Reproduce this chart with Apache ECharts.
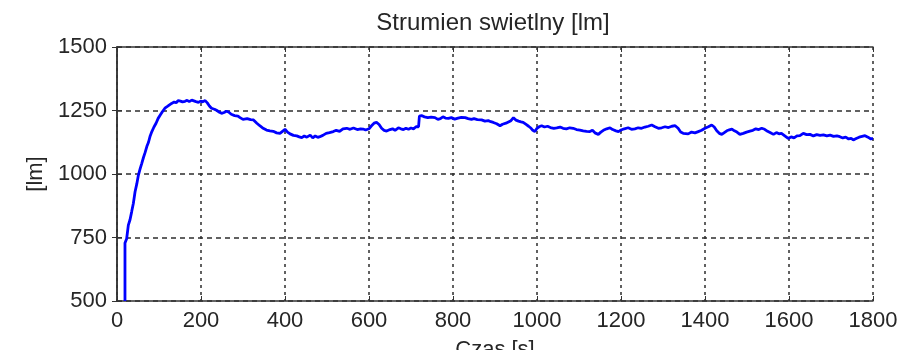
<!DOCTYPE html>
<html><head><meta charset="utf-8">
<script src="https://cdn.jsdelivr.net/npm/echarts@6/dist/echarts.min.js"></script>
<style>html,body{margin:0;padding:0;background:#fff}#c{width:912px;height:350px}</style>
</head><body><div id="c"></div>
<script>
const titleText = 'Strumien swietlny [lm]';
const xName = 'Czas [s]';
const yName = '[lm]';
const xTicks = [0,200,400,600,800,1000,1200,1400,1600,1800];
const yTicks = [500,750,1000,1250,1500];
const timeS = [19,19,23,27,31,35,39,43,47,51,55,59,63,67,71,75,79,83,88,93,98,103,108,114,120,125,130,136,141,146,151,156,162,167,172,178,183,188,194,199,204,210,215,220,225,232,238,244,249,255,260,265,272,280,288,293,300,310,318,325,333,340,348,356,364,372,380,388,394,400,406,412,420,428,434,440,446,452,460,466,472,478,483,490,498,506,515,522,530,538,547,555,563,572,580,586,592,600,606,612,618,624,630,636,642,650,656,662,670,676,682,688,694,700,706,712,718,720,725,732,740,748,757,764,770,776,782,789,796,804,812,820,829,836,844,850,858,868,876,884,890,896,904,912,918,926,932,938,944,950,956,962,967,974,980,986,990,995,1000,1005,1011,1018,1025,1032,1040,1047,1055,1062,1070,1078,1086,1094,1102,1110,1118,1126,1132,1138,1146,1152,1158,1166,1174,1180,1188,1194,1200,1208,1217,1225,1233,1241,1249,1257,1265,1273,1281,1289,1297,1305,1313,1321,1329,1336,1342,1348,1352,1360,1368,1376,1384,1392,1400,1408,1416,1422,1428,1434,1440,1446,1452,1458,1464,1470,1476,1483,1491,1499,1507,1514,1521,1528,1535,1542,1549,1556,1563,1570,1576,1582,1590,1598,1605,1612,1619,1626,1634,1642,1650,1658,1666,1674,1682,1690,1698,1706,1714,1721,1728,1735,1742,1748,1753,1760,1767,1774,1781,1788,1795,1800];
const fluxLm = [500,728,745,799,820,852,885,930,960,996,1020,1042,1065,1085,1108,1125,1150,1167,1185,1200,1219,1232,1245,1259,1266,1272,1278,1283,1281,1289,1287,1284,1286,1290,1285,1291,1288,1285,1282,1287,1284,1289,1280,1268,1259,1255,1250,1243,1239,1242,1247,1245,1235,1230,1228,1222,1215,1218,1214,1213,1200,1190,1180,1173,1170,1168,1162,1160,1168,1176,1165,1158,1152,1150,1146,1143,1150,1145,1153,1142,1150,1144,1147,1152,1160,1163,1167,1172,1168,1178,1180,1176,1181,1175,1178,1177,1173,1178,1190,1200,1203,1195,1180,1172,1169,1175,1178,1172,1182,1178,1175,1180,1176,1181,1178,1186,1186,1228,1230,1225,1222,1224,1222,1215,1218,1225,1220,1219,1222,1216,1220,1223,1222,1218,1215,1218,1214,1213,1208,1210,1206,1203,1198,1190,1196,1200,1205,1210,1222,1212,1208,1205,1203,1195,1188,1180,1172,1167,1180,1186,1190,1185,1188,1183,1180,1182,1185,1180,1178,1182,1180,1175,1173,1170,1168,1167,1172,1162,1156,1165,1172,1178,1182,1175,1170,1167,1173,1178,1182,1176,1178,1182,1180,1185,1188,1193,1186,1180,1182,1186,1183,1188,1190,1180,1165,1160,1156,1158,1165,1162,1167,1172,1180,1186,1193,1185,1170,1160,1156,1163,1170,1174,1177,1170,1165,1156,1160,1165,1169,1172,1178,1175,1180,1176,1168,1162,1156,1163,1158,1160,1150,1140,1146,1142,1150,1151,1160,1155,1156,1150,1155,1152,1154,1150,1153,1148,1150,1147,1142,1145,1138,1140,1134,1140,1145,1148,1151,1145,1138,1140];

const seriesData = timeS.map((t,i)=>[t, fluxLm[i]]);
const font = '"Liberation Sans", Arial, sans-serif';
const txt = '#262626';
const plain = v => String(v);
const gridLine = (dash)=>({show:true, lineStyle:{color:'#2e2e2e', width:1.5, type:dash}});
const chart = echarts.init(document.getElementById('c'), null, {renderer:'canvas'});
chart.setOption({
  animation:false,
  backgroundColor:'#fff',
  title:{text:titleText, left:488, textAlign:'center', top:6,
    textStyle:{fontFamily:font, fontSize:24, fontWeight:'normal', color:txt}},
  grid:{left:117, right:39, top:47, bottom:49, containLabel:false, outerBoundsMode:'none'},
  xAxis:[{type:'value', min:xTicks[0], max:xTicks[xTicks.length-1], interval:200,
    name:xName, nameLocation:'middle', nameGap:38,
    nameTextStyle:{fontFamily:font, fontSize:22, color:txt},
    axisLine:{show:true, lineStyle:{color:'#333', width:1.5}},
    axisTick:{show:true, inside:true, length:5, lineStyle:{color:'#333'}},
    axisLabel:{fontFamily:font, fontSize:22, color:txt, margin:9, formatter:plain},
    splitLine:gridLine([3,4])},
   {type:'value', position:'top', min:xTicks[0], max:xTicks[xTicks.length-1], interval:200,
    axisLine:{show:true, lineStyle:{color:'#333', width:1.5}},
    axisTick:{show:true, inside:true, length:5, lineStyle:{color:'#333'}},
    axisLabel:{show:false}, splitLine:{show:false}}],
  yAxis:[{type:'value', min:yTicks[0], max:yTicks[yTicks.length-1], interval:250,
    name:yName, nameLocation:'middle', nameGap:66, nameRotate:90,
    nameTextStyle:{fontFamily:font, fontSize:22, color:txt},
    axisLine:{show:true, lineStyle:{color:'#333', width:1.5}},
    axisTick:{show:true, inside:true, length:5, lineStyle:{color:'#333'}},
    axisLabel:{fontFamily:font, fontSize:22, color:txt, margin:10, formatter:plain},
    splitLine:gridLine([5,4])},
   {type:'value', position:'right', min:yTicks[0], max:yTicks[yTicks.length-1], interval:250,
    axisLine:{show:true, lineStyle:{color:'#333', width:1.5}},
    axisTick:{show:true, inside:true, length:5, lineStyle:{color:'#333'}},
    axisLabel:{show:false}, splitLine:{show:false}}],
  series:[{type:'line', xAxisIndex:0, yAxisIndex:0, data:seriesData, showSymbol:false,
    lineStyle:{color:'#0000ff', width:2.8}, clip:true}]
});
</script></body></html>
